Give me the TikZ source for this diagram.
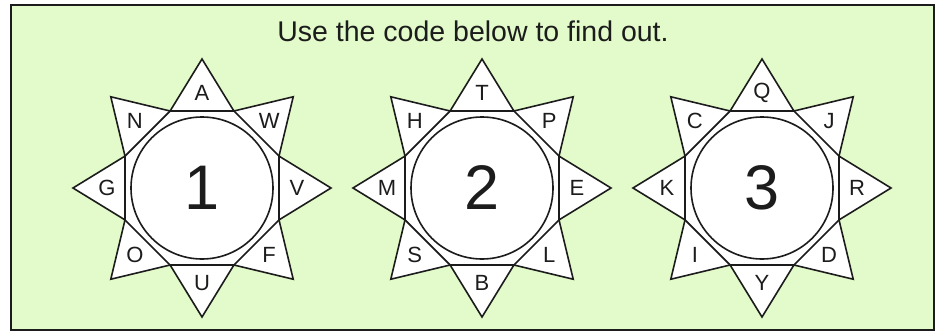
\documentclass[tikz,border=0pt]{standalone}
\usepackage{fontspec}
\setmainfont{Liberation Sans}
\definecolor{boxgreen}{RGB}{227,250,202}
\definecolor{inkline}{RGB}{28,28,28}
\begin{document}
\begin{tikzpicture}[x=1pt,y=1pt,line width=1.6pt,draw=inkline]
 \tikzset{
  letter/.style={font=\fontsize{22}{22}\selectfont,inner sep=0pt,text=inkline},
  hub/.style={circle,draw,fill=white,minimum size=142pt,inner sep=0pt,
   font=\fontsize{63}{63}\selectfont,text=inkline},
 }
 \useasboundingbox (0,0) rectangle (941,333);
 %% frame and heading
 \draw[line width=2pt,fill=boxgreen] (11,3) rectangle (934,328);
 \node[anchor=base,font=\fontsize{28.5}{30}\selectfont,text=inkline] (title) at (473,292) {Use the code below to find out.};
 %% stars: number / centre x / letters clockwise from the top
 \foreach \n/\cx/\ls in {1/202/{A,W,V,F,U,O,G,N},2/482/{T,P,E,L,B,S,M,H},3/762/{Q,J,R,D,Y,I,K,C}}{
  \begin{scope}[shift={(\cx,145)}]
   \draw[fill=white,line join=miter] (90:129) \foreach \k in {0,...,7}{ -- (67.5-45*\k:83.34) -- (45-45*\k:129)} -- cycle;
   \draw[line join=miter] (67.5:83.34) \foreach \k in {1,...,7}{ -- (67.5-45*\k:83.34)} -- cycle;
   \node[hub] (hub\n) at (0,0) {\n};
   \foreach \l [count=\k from 0] in \ls {\node[letter] (l\n-\k) at (90-45*\k:95) {\l};}
  \end{scope}
 }
\end{tikzpicture}
\end{document}
